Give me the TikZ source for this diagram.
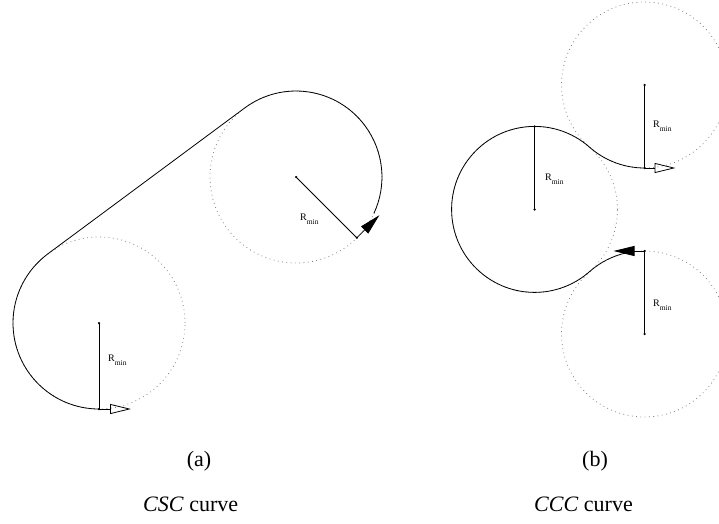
\documentclass[tikz,border=0pt]{standalone}
\usepackage{fontspec}
\setmainfont{Liberation Serif}
\usetikzlibrary{arrows.meta}
\newcommand{\rmintext}{R\raisebox{-4pt}{\fontsize{7.5}{8}\selectfont min}}
\begin{document}
\begin{tikzpicture}[x=1pt,y=1pt,
  guide/.style={draw=gray, dash pattern=on 0.8pt off 3.5pt, line width=0.8pt},
  pathline/.style={draw=black, line width=0.8pt},
  rline/.style={draw=black, line width=0.8pt},
  dotpt/.style={circle, fill=black, inner sep=0pt, minimum size=2.5pt},
  openarrow/.style={draw, line width=0.8pt, -{Triangle[open, length=21pt, width=10pt]}},
  fullarrow/.style={draw, line width=0.8pt, -{Triangle[length=21pt, width=10pt]}},
  lbl/.style={anchor=base west, inner sep=0pt, font=\fontsize{10}{12}\selectfont},
  captext/.style={anchor=base, inner sep=0pt, font=\fontsize{22}{26}\selectfont},
  captextl/.style={anchor=base west, inner sep=0pt, font=\fontsize{22}{26}\selectfont}]
\useasboundingbox (0,0) rectangle (719,523);
% ---------- (a) ----------
\coordinate (c1) at (99,200);
\coordinate (c2) at (296,346);
\coordinate (c1b) at (99,114);
\coordinate (c2r) at (356.81,285.19);
\coordinate (p2) at (244.76,415.07);
\coordinate (a1end) at (131,114);
\coordinate (a2end) at (379.4,307.8);
\draw[guide] (c1) circle[radius=86];
\draw[guide] (c2) circle[radius=86];
\draw[pathline] (c1b) arc[start angle=270, end angle=126.54, radius=86]
  -- (p2) arc[start angle=126.54, end angle=-25, radius=86];
\draw[rline] (c1) -- (c1b);
\draw[rline] (c2) -- (c2r);
\draw[openarrow] (c1b) -- (a1end);
\draw[fullarrow] (c2r) -- (a2end);
\node[dotpt] (d1) at (c1) {};
\node[dotpt] (d2) at (c1b) {};
\node[dotpt] (d3) at (c2) {};
\node[dotpt] (d4) at (c2r) {};
\node[lbl] (l1) at (108,162) {\rmintext};
\node[lbl] (l2) at (300,303) {\rmintext};
\node[captext] (capa) at (199,56.5) {(a)};
\node[captextl] (capa2) at (143,12) {\textit{CSC} curve};
% ---------- (b) ----------
\coordinate (m) at (534.5,313.5);
\coordinate (t) at (644.5,438);
\coordinate (b) at (644.5,189);
\coordinate (mt) at (534.5,396.5);
\coordinate (tb) at (644.5,355);
\coordinate (bt) at (644.5,272);
\coordinate (b1end) at (675.5,355);
\coordinate (b2end) at (613.5,272);
\draw[guide] (m) circle[radius=83];
\draw[guide] (t) circle[radius=83];
\draw[guide] (b) circle[radius=83];
\draw[pathline] (tb) arc[start angle=270, end angle=228.54, radius=83]
  arc[start angle=48.54, end angle=311.46, radius=83]
  arc[start angle=131.46, end angle=103, radius=83];
\draw[rline] (m) -- (mt);
\draw[rline] (t) -- (tb);
\draw[rline] (b) -- (bt);
\draw[openarrow] (tb) -- (b1end);
\draw[fullarrow] (bt) -- (b2end);
\node[dotpt] (e1) at (m) {};
\node[dotpt] (e2) at (mt) {};
\node[dotpt] (e3) at (t) {};
\node[dotpt] (e4) at (tb) {};
\node[dotpt] (e5) at (b) {};
\node[dotpt] (e6) at (bt) {};
\node[lbl] (l3) at (545,343) {\rmintext};
\node[lbl] (l4) at (653,395) {\rmintext};
\node[lbl] (l5) at (653,217) {\rmintext};
\node[captext] (capb) at (595,56.5) {(b)};
\node[captextl] (capb2) at (534,12) {\textit{CCC} curve};
\end{tikzpicture}
\end{document}
